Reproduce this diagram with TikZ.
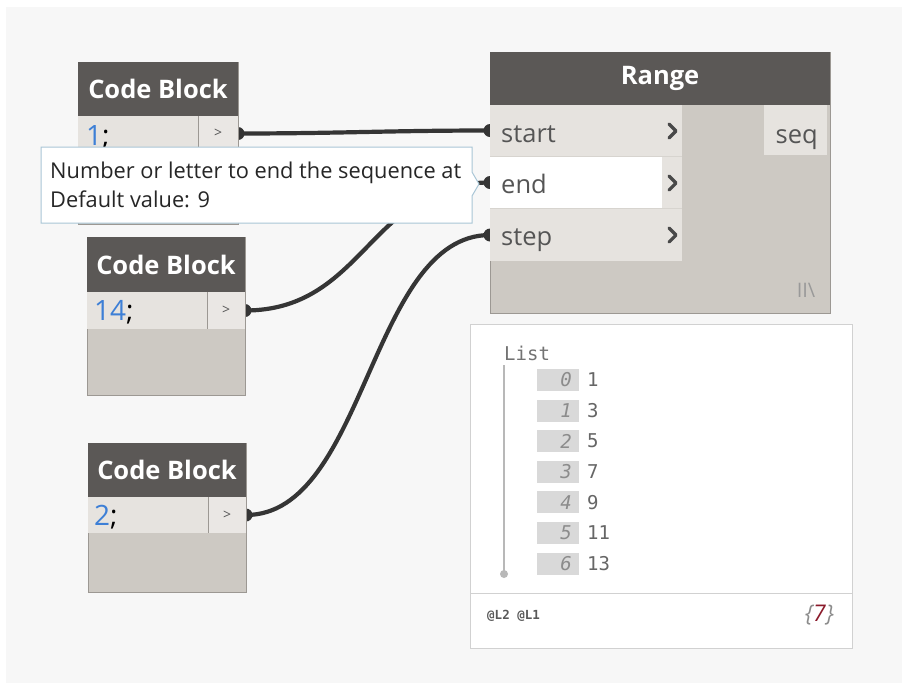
\documentclass[tikz,border=0pt]{standalone}
\usepackage{fontspec}
\setmainfont{Open Sans}
\newfontfamily\monofont{DejaVu Sans Mono}
\usetikzlibrary{calc}
\definecolor{bgc}{HTML}{F7F7F7}
\definecolor{hdrc}{HTML}{5B5856}
\definecolor{rowc}{HTML}{E6E3DF}
\definecolor{portc}{HTML}{EAE7E4}
\definecolor{bodyc}{HTML}{CDC9C3}
\definecolor{edgec}{HTML}{9C9893}
\definecolor{wirec}{HTML}{353535}
\definecolor{codeblue}{HTML}{3D7FD6}
\definecolor{tipc}{HTML}{A9C6D6}
\definecolor{txtc}{HTML}{555555}
\definecolor{idxc}{HTML}{D9D9D9}
\definecolor{darkred}{HTML}{8B1A2B}
\pgfdeclarelayer{back}
\pgfdeclarelayer{wires}
\pgfsetlayers{back,wires,main}
\begin{document}
\begin{tikzpicture}[x=1pt,y=-1pt,
  blk/.style={inner sep=0pt, outer sep=0pt, anchor=north west},
  hdr/.style={blk, fill=hdrc, text=white, font=\bfseries\fontsize{25.5}{25.5}\selectfont},
  rowbox/.style={blk, fill=rowc},
  portbox/.style={blk, fill=portc},
  bodybox/.style={blk, fill=bodyc, draw=edgec, line width=0.8pt},
  codetxt/.style={anchor=base west, inner sep=0pt, font=\fontsize{28}{28}\selectfont},
  gt/.style={inner sep=0pt, text=txtc, font=\fontsize{14}{14}\selectfont},
  ptxt/.style={anchor=base west, inner sep=0pt, text=txtc, font=\fontsize{25.5}{25.5}\selectfont},
  chev/.style={draw=wirec!90, line width=3.2pt, line cap=round, line join=round},
  wire/.style={draw=wirec, line width=4.2pt},
  portdot/.style={fill=wirec},
  idxbox/.style={blk, fill=idxc, minimum width=42pt, minimum height=22pt},
  idxtxt/.style={anchor=east, inner sep=0pt, text=black!45, font=\monofont\itshape\fontsize{19}{19}\selectfont},
  valtxt/.style={anchor=west, inner sep=0pt, text=black!60, font=\monofont\fontsize{19}{19}\selectfont}
]
% background
\begin{pgfonlayer}{back}
\fill[white] (0,0) rectangle (902,683);
\fill[bgc] (6,7) rectangle (902,683);
\end{pgfonlayer}

% ---------- Code Block 1 ----------
\node[bodybox, minimum width=160pt, minimum height=162pt] (cb1) at (78,62) {};
\node[hdr, minimum width=160pt, minimum height=54pt] (cb1h) at (78,62) {Code Block};
\node[rowbox, minimum width=120pt, minimum height=35pt] (cb1r) at (78,116) {};
\node[portbox, minimum width=40pt, minimum height=35pt] (cb1p) at (198,116) {};
\draw[edgec, line width=0.8pt] (cb1p.north west) -- (cb1p.south west);
\node[gt] at (cb1p.center) {>};
\node[codetxt] (cb1t) at (86,145) {\textcolor{codeblue}{1};};

% ---------- Code Block 2 ----------
\node[bodybox, minimum width=158pt, minimum height=158pt] (cb2) at (87,237) {};
\node[hdr, minimum width=158pt, minimum height=55pt] (cb2h) at (87,237) {Code Block};
\node[rowbox, minimum width=120pt, minimum height=37pt] (cb2r) at (87,292) {};
\node[portbox, minimum width=38pt, minimum height=37pt] (cb2p) at (207,292) {};
\draw[edgec, line width=0.8pt] (cb2p.north west) -- (cb2p.south west);
\node[gt] at (cb2p.center) {>};
\node[codetxt] (cb2t) at (94,320) {\textcolor{codeblue}{14};};

% ---------- Code Block 3 ----------
\node[bodybox, minimum width=158pt, minimum height=149pt] (cb3) at (88,443) {};
\node[hdr, minimum width=158pt, minimum height=54pt] (cb3h) at (88,443) {Code Block};
\node[rowbox, minimum width=120pt, minimum height=36pt] (cb3r) at (88,497) {};
\node[portbox, minimum width=38pt, minimum height=36pt] (cb3p) at (208,497) {};
\draw[edgec, line width=0.8pt] (cb3p.north west) -- (cb3p.south west);
\node[gt] at (cb3p.center) {>};
\node[codetxt] (cb3t) at (94,525) {\textcolor{codeblue}{2};};

% ---------- Range ----------
\node[bodybox, minimum width=340pt, minimum height=261pt] (rg) at (490,52) {};
\node[hdr, minimum width=340pt, minimum height=53pt] (rgh) at (490,52) {Range};
\node[rowbox, minimum width=192pt, minimum height=51pt] (st) at (490,105) {};
\node[rowbox, minimum width=192pt, minimum height=51pt] (en) at (490,157) {};
\node[blk, fill=white, minimum width=172pt, minimum height=51pt] (enw) at (490,157) {};
\node[rowbox, minimum width=192pt, minimum height=52pt] (sp) at (490,209) {};
\draw[bodyc!80!white, line width=1pt] (st.south west) -- (st.south east);
\draw[bodyc!80!white, line width=1pt] (en.south west) -- (en.south east);
\node[ptxt] (stt) at (501,142) {start};
\node[ptxt] (ent) at (501,193) {end};
\node[ptxt] (spt) at (501,245) {step};
\draw[chev] (669,124) -- (676,131) -- (669,138);
\draw[chev] (669,176) -- (676,183) -- (669,190);
\draw[chev] (669,228) -- (676,235) -- (669,242);
\node[rowbox, minimum width=63pt, minimum height=50pt] (seq) at (764,105) {};
\node[anchor=base east, inner sep=0pt, text=txtc, font=\fontsize{25.5}{25.5}\selectfont] (seqt) at (818,143) {seq};
\node[inner sep=0pt, text=black!40, font=\fontsize{20}{20}\selectfont] (lace) at (806,290) {II\textbackslash};

% ---------- Watch ----------
\node[blk, fill=white, draw=black!18, line width=1pt, minimum width=382pt, minimum height=324pt] (wt) at (470,324) {};
\draw[black!18, line width=1pt] (470,593) -- (852,593);
\node[anchor=base west, inner sep=0pt, text=black!55, font=\monofont\fontsize{19}{19}\selectfont] (lst) at (504,360) {List};
\draw[black!28, line width=1.5pt] (504,365) -- (504,573);
\fill[black!28] (504,574) circle (4pt);
\foreach \i/\v in {0/1,1/3,2/5,3/7,4/9,5/11,6/13}{
  \node[idxbox] (idx\i) at (537,{369+\i*30.6}) {};
  \node[idxtxt] at ($(idx\i.east)+(-7,0)$) {\i};
  \node[valtxt] (val\i) at ($(idx\i.east)+(8,0)$) {\v};
}
\node[anchor=west, inner sep=0pt, text=black!65, font=\monofont\bfseries\fontsize{12.5}{12.5}\selectfont] (lv) at (487,616) {@L2 @L1};
\node[anchor=east, inner sep=0pt, font=\itshape\fontsize{23}{23}\selectfont] (cnt) at (834,615) {\textcolor{black!45}{\{}\textcolor{darkred}{7}\textcolor{black!45}{\}}};

% ---------- Wires ----------
\begin{pgfonlayer}{wires}
\draw[wire] (cb1p.east) .. controls +(100,0) and +(-100,0) .. (st.west);
\draw[wire] (cb2p.east) .. controls +(120,0) and +(-120,0) .. (en.west);
\draw[wire] (cb3p.east) .. controls +(120,0) and +(-120,0) .. (sp.west);
\foreach \p in {cb1p.east, cb2p.east, cb3p.east, st.west, en.west, sp.west}
  \fill[portdot] (\p) circle (6.5pt);
\end{pgfonlayer}

% ---------- Tooltip ----------
\node[blk, minimum width=431pt, minimum height=76pt] (tip) at (41,147) {};
\filldraw[fill=white, draw=tipc, line width=1pt]
  (tip.north west) -- (tip.north east) -- ($(tip.north east)+(0,25)$) -- ($(tip.north east)+(7,37)$)
  -- ($(tip.north east)+(0,49)$) -- (tip.south east) -- (tip.south west) -- cycle;
\node[anchor=base west, inner sep=0pt, text=black!85, font=\fontsize{21.8}{21.8}\selectfont] (tip1) at (50,178) {Number or letter to end the sequence at};
\node[anchor=base west, inner sep=0pt, text=black!85, font=\fontsize{21.8}{21.8}\selectfont] (tip2) at (50,207) {Default value: 9};
\end{tikzpicture}
\end{document}
